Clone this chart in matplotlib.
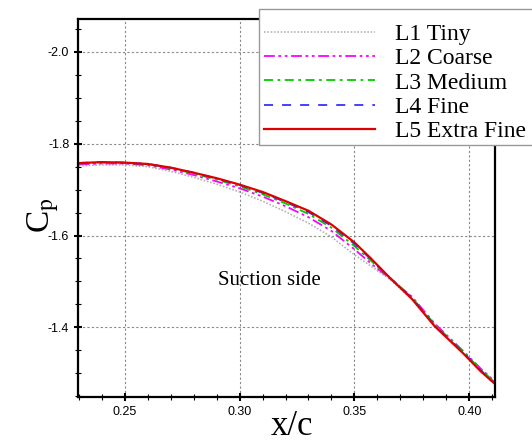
import matplotlib
matplotlib.use('Agg')
import matplotlib.pyplot as plt
from matplotlib.patches import Rectangle
from matplotlib.ticker import MultipleLocator

# Cp along the suction side for five grid levels ------------------------------------------------
xc = [0.230, 0.240, 0.250, 0.260, 0.270, 0.280, 0.290, 0.300, 0.310, 0.320,
      0.330, 0.340, 0.350, 0.357, 0.365, 0.375, 0.385, 0.397, 0.405, 0.412]

cp_tiny   = [-1.752, -1.754, -1.754, -1.750, -1.740, -1.727, -1.712, -1.695, -1.675, -1.652,
             -1.627, -1.597, -1.558, -1.534, -1.506, -1.462, -1.405, -1.345, -1.307, -1.276]
cp_coarse = [-1.755, -1.757, -1.757, -1.753, -1.744, -1.732, -1.718, -1.703, -1.685, -1.664,
             -1.640, -1.610, -1.570, -1.540, -1.508, -1.467, -1.408, -1.350, -1.310, -1.278]
cp_medium = [-1.757, -1.759, -1.758, -1.755, -1.747, -1.735, -1.722, -1.707, -1.690, -1.670,
             -1.647, -1.617, -1.577, -1.546, -1.510, -1.465, -1.406, -1.348, -1.308, -1.276]
cp_fine   = [-1.758, -1.760, -1.759, -1.756, -1.748, -1.737, -1.724, -1.710, -1.693, -1.673,
             -1.651, -1.621, -1.582, -1.549, -1.510, -1.464, -1.404, -1.347, -1.306, -1.275]
cp_xfine  = [-1.758, -1.760, -1.759, -1.756, -1.748, -1.737, -1.725, -1.711, -1.695, -1.675,
             -1.654, -1.624, -1.585, -1.551, -1.510, -1.462, -1.402, -1.345, -1.304, -1.273]

labels = ['L1 Tiny', 'L2 Coarse', 'L3 Medium', 'L4 Fine', 'L5 Extra Fine']

plt.rcParams['mathtext.fontset'] = 'stix'
serif = 'Liberation Serif'
sans  = 'Liberation Sans'
W, H = 532, 441

fig = plt.figure(figsize=(W / 100, H / 100), dpi=100)
ax = fig.add_axes([0.1472, 0.0991, 0.7833, 0.8578])

ax.plot(xc, cp_tiny,   color='#b4b4b4', lw=1.2, ls=(0, (1, 1)), label=labels[0])
ax.plot(xc, cp_coarse, color='#ff00ff', lw=1.3, ls=(0, (6, 2, 1.5, 2, 1.5, 2)), label=labels[1])
ax.plot(xc, cp_medium, color='#00cc00', lw=1.3, ls=(0, (5, 2.5, 1.5, 2.5)), label=labels[2])
ax.plot(xc, cp_fine,   color='#3333ff', lw=1.3, ls=(0, (5, 5)), label=labels[3])
ax.plot(xc, cp_xfine,  color='#dd0000', lw=1.6, ls='-', label=labels[4])

# axes ----------------------------------------------------------------------------------------
ax.set_xlim(0.2298, 0.4112)
ax.set_ylim(-1.2475, -2.0719)
ax.xaxis.set_major_locator(MultipleLocator(0.05))
ax.xaxis.set_minor_locator(MultipleLocator(0.01))
ax.yaxis.set_major_locator(MultipleLocator(0.2))
ax.yaxis.set_minor_locator(MultipleLocator(0.05))
ax.xaxis.set_major_formatter(plt.FuncFormatter(lambda v, p: '%.2f' % v))
ax.yaxis.set_major_formatter(plt.FuncFormatter(lambda v, p: '%.1f' % v))

ax.grid(True, which='major', color='#888888', lw=0.8, ls=(0, (2, 2)))
for s in ax.spines.values():
    s.set_linewidth(1.6)
ax.tick_params(which='major', direction='inout', length=6, width=1.5, labelsize=9,
               top=False, right=False)
ax.tick_params(which='minor', direction='inout', length=4.5, width=0.8, top=False, right=False)
for t in ax.get_xticklabels() + ax.get_yticklabels():
    t.set_fontfamily(sans)

ax.set_xlabel('x/c', fontfamily=serif, fontsize=25, va='center')
ax.xaxis.set_label_coords(0.513, -0.076)
ax.set_ylabel(r'C$_\mathrm{p}$', fontfamily=serif, fontsize=24, va='center')
ax.yaxis.set_label_coords(-0.085, 0.482)

ax.text(0.3128, -1.503, 'Suction side', fontfamily=serif, fontsize=15, ha='center', va='center')

# legend box, runs off the right edge of the figure
fig.patches.append(Rectangle((259 / W, 1 - 145 / H), 300 / W, 136 / H, transform=fig.transFigure,
                             facecolor='white', edgecolor='#999999', lw=1.0, zorder=4))
leg = fig.legend(loc='upper left', bbox_to_anchor=(264 / W, 1 - 23.5 / H),
                 prop={'family': serif, 'size': 17}, handlelength=4.7, handletextpad=0.85,
                 labelspacing=0.12, borderpad=0, borderaxespad=0, frameon=False)
leg.set_zorder(5)

fig.savefig('out.png', dpi=100)
